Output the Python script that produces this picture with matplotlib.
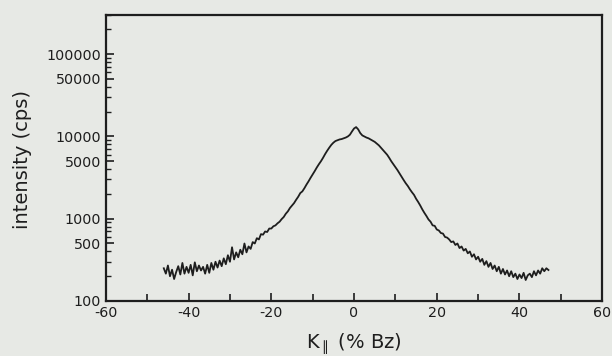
import numpy as np
import matplotlib
matplotlib.use("Agg")
import matplotlib.pyplot as plt
from matplotlib.ticker import FixedLocator, LogLocator, NullFormatter, FixedFormatter

# intensity (cps) sampled every 0.5 %Bz from -46 to 47
intensity = [
    250, 215, 270, 200, 240, 185, 225, 265, 210, 290,      # -46.0 .. -41.5
    215, 260, 220, 275, 205, 295, 230, 270, 235, 260,      # -41.0 .. -36.5
    215, 275, 220, 290, 240, 300, 255, 310, 265, 330,      # -36.0 .. -31.5
    280, 360, 300, 450, 320, 390, 340, 420, 370, 500,      # -31.0 .. -26.5
    390, 460, 430, 520, 500, 580, 560, 650, 640, 700,      # -26.0 .. -21.5
    690, 760, 760, 810, 830, 880, 920, 990, 1050, 1150,    # -21.0 .. -16.5
    1230, 1350, 1450, 1550, 1700, 1850, 2050, 2150, 2350, 2600,   # -16.0 .. -11.5
    2850, 3150, 3450, 3800, 4200, 4600, 5000, 5500, 6100, 6700,   # -11.0 .. -6.5
    7300, 7900, 8400, 8800, 9000, 9200, 9300, 9500, 9700, 10000,  # -6.0 .. -1.5
    10500, 11500, 12500, 13000, 12200, 11000, 10300, 10000, 9700, 9500,  # -1.0 .. 3.5
    9200, 8900, 8600, 8200, 7800, 7300, 6800, 6400, 6000, 5500,   # 4.0 .. 8.5
    5000, 4600, 4250, 3900, 3550, 3250, 2950, 2700, 2500, 2280,   # 9.0 .. 13.5
    2100, 1950, 1750, 1600, 1450, 1300, 1180, 1080, 980, 920,     # 14.0 .. 18.5
    830, 820, 740, 720, 670, 660, 600, 590, 560, 520,             # 19.0 .. 23.5
    530, 480, 500, 440, 460, 410, 430, 380, 400, 345,             # 24.0 .. 28.5
    370, 320, 345, 300, 325, 275, 305, 260, 290, 245,             # 29.0 .. 33.5
    270, 230, 260, 215, 245, 210, 235, 200, 230, 195,             # 34.0 .. 38.5
    215, 185, 210, 190, 220, 180, 205, 215, 195, 230,             # 39.0 .. 43.5
    205, 235, 215, 250, 230, 250, 238,                            # 44.0 .. 47.0
]
k_par = np.linspace(-46, 47, len(intensity))

x_ticks = [-60, -40, -20, 0, 20, 40, 60]
x_minor = [-50, -30, -10, 10, 30, 50]
y_ticks = [100, 500, 1000, 5000, 10000, 50000, 100000]
y_labels = ["100", "500", "1000", "5000", "10000", "50000", "100000"]

bg = "#e7e9e5"
ink = "#1e1e1e"

fig = plt.figure(figsize=(6.12, 3.56), dpi=100, facecolor=bg)
ax = fig.add_axes([0.173, 0.1545, 0.811, 0.8035], facecolor=bg)

ax.plot(k_par, intensity, color=ink, lw=1.3)

ax.set_yscale("log")
ax.set_xlim(-60, 60)
ax.set_ylim(100, 3.0e5)

ax.xaxis.set_major_locator(FixedLocator(x_ticks))
ax.xaxis.set_minor_locator(FixedLocator(x_minor))
ax.set_xticklabels([str(v) for v in x_ticks])
ax.yaxis.set_major_locator(FixedLocator(y_ticks))
ax.yaxis.set_major_formatter(FixedFormatter(y_labels))
ax.yaxis.set_minor_locator(LogLocator(base=10, subs=np.arange(2, 10)))
ax.yaxis.set_minor_formatter(NullFormatter())

ax.tick_params(axis="both", which="both", direction="in", colors=ink,
               labelsize=10.3, top=False, right=False)
ax.tick_params(axis="both", which="major", length=6, width=1.2)
ax.tick_params(axis="both", which="minor", length=3.5, width=1.0)
ax.tick_params(axis="x", which="minor", length=5, width=1.2)

for s in ax.spines.values():
    s.set_linewidth(1.6)
    s.set_color(ink)

ax.set_ylabel("intensity (cps)", fontsize=14, color=ink)
ax.yaxis.set_label_coords(-0.148, 0.493)
ax.set_xlabel(r"K$_{\parallel}$ (% Bz)", fontsize=14, color=ink)
ax.xaxis.set_label_coords(0.5, -0.105)

fig.savefig("out.png", dpi=100, facecolor=bg)
